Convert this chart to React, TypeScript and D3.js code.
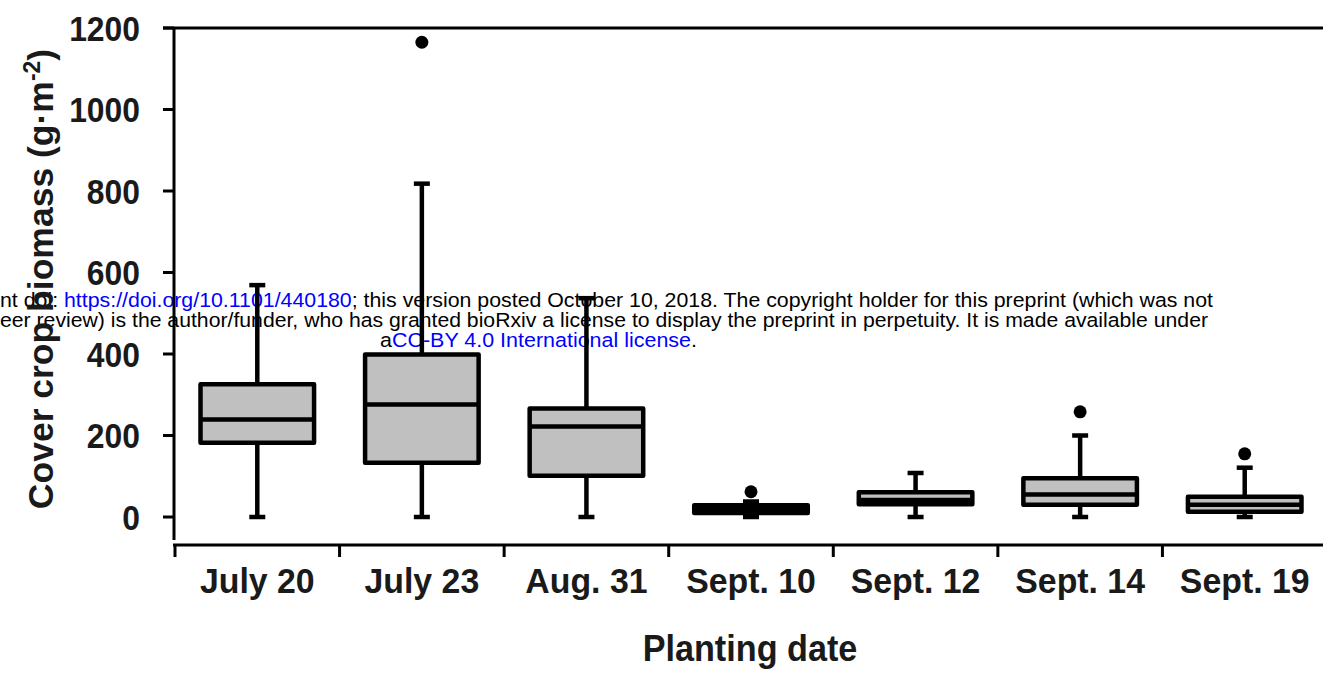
import React, { useRef, useEffect } from 'react';
import * as d3 from 'd3';

// planting dates on the x axis
const dates = ['July 20', 'July 23', 'Aug. 31', 'Sept. 10', 'Sept. 12', 'Sept. 14', 'Sept. 19'];

// box plot stats (g·m-2)
const mins = [0, 0, 0, 0, 0, 0, 0];
const q1s = [182, 133, 101, 10, 31, 30, 13];
const medians = [239, 276, 222, 20, 42, 55, 30];
const q3s = [326, 399, 266, 29, 61, 95, 50];
const maxs = [569, 818, 537, 38, 108, 200, 121];
const outliers = [[], [1165], [], [62], [], [258], [155]];

const yTicks = [0, 200, 400, 600, 800, 1000, 1200];

const FONT = "'Liberation Sans', Arial, sans-serif";

const App = () => {
  const ref = useRef(null);

  useEffect(() => {
    const svg = d3.select(ref.current);
    svg.selectAll('*').remove();

    const width = 1323;
    const height = 675;
    svg.attr('width', width).attr('height', height);

    const x = d3.scaleBand().domain(dates).range([175, 1327]).padding(0);
    const y = d3.scaleLinear().domain([0, 1200]).range([517, 28]);

    const stroke = 4.5;
    const boxW = x.bandwidth() * 0.69;
    const capW = 16;

    // preprint watermark (drawn under the chart)
    const wm = svg.append('g').attr('font-family', FONT).attr('font-size', 20.5);
    const l1 = wm.append('text').attr('x', 0).attr('y', 307)
      .attr('textLength', 1213).attr('lengthAdjust', 'spacingAndGlyphs');
    l1.append('tspan').attr('fill', '#000').text('nt doi: ');
    l1.append('tspan').attr('fill', '#0000ff').text('https://doi.org/10.1101/440180');
    l1.append('tspan').attr('fill', '#000').text('; this version posted October 10, 2018. The copyright holder for this preprint (which was not');
    wm.append('text').attr('x', 0).attr('y', 327)
      .attr('textLength', 1208).attr('lengthAdjust', 'spacingAndGlyphs')
      .attr('fill', '#000')
      .text('eer review) is the author/funder, who has granted bioRxiv a license to display the preprint in perpetuity. It is made available under');
    const l3 = wm.append('text').attr('x', 380).attr('y', 347)
      .attr('textLength', 317).attr('lengthAdjust', 'spacingAndGlyphs');
    l3.append('tspan').attr('fill', '#000').text('a');
    l3.append('tspan').attr('fill', '#0000ff').text('CC-BY 4.0 International license');
    l3.append('tspan').attr('fill', '#000').text('.');

    // top border line
    svg.append('line')
      .attr('x1', 163).attr('x2', width).attr('y1', y(1200)).attr('y2', y(1200))
      .attr('stroke', '#000').attr('stroke-width', 3);

    // y axis
    svg.append('line')
      .attr('x1', 174).attr('x2', 174).attr('y1', y(1200)).attr('y2', 540)
      .attr('stroke', '#000').attr('stroke-width', 3);

    const yt = svg.append('g');
    yt.selectAll('line').data(yTicks).enter().append('line')
      .attr('x1', 163).attr('x2', 174)
      .attr('y1', d => y(d)).attr('y2', d => y(d))
      .attr('stroke', '#000').attr('stroke-width', 3);
    yt.selectAll('text').data(yTicks).enter().append('text')
      .attr('transform', d => `translate(140,${y(d)}) scale(0.91,1)`)
      .attr('dy', '0.36em')
      .attr('text-anchor', 'end')
      .attr('font-family', FONT).attr('font-weight', 'bold').attr('font-size', 35)
      .attr('fill', '#1a1a1a')
      .text(d => d);

    // x axis
    const xAxisY = 545;
    svg.append('line')
      .attr('x1', 173).attr('x2', width).attr('y1', xAxisY).attr('y2', xAxisY)
      .attr('stroke', '#000').attr('stroke-width', 3);
    const edges = dates.map(d => x(d)).concat([x(dates[dates.length - 1]) + x.bandwidth()]);
    svg.append('g').selectAll('line').data(edges).enter().append('line')
      .attr('x1', d => d).attr('x2', d => d)
      .attr('y1', xAxisY).attr('y2', xAxisY + 12)
      .attr('stroke', '#000').attr('stroke-width', 3);
    svg.append('g').selectAll('text').data(dates).enter().append('text')
      .attr('transform', d => `translate(${x(d) + x.bandwidth() / 2},593) scale(0.94,1)`)
      .attr('text-anchor', 'middle')
      .attr('font-family', FONT).attr('font-weight', 'bold').attr('font-size', 36)
      .attr('fill', '#1a1a1a')
      .text(d => d);

    // axis titles
    svg.append('text')
      .attr('transform', 'translate(750,661) scale(0.95,1)')
      .attr('text-anchor', 'middle')
      .attr('font-family', FONT).attr('font-weight', 'bold').attr('font-size', 36)
      .attr('fill', '#1a1a1a')
      .text('Planting date');

    const yt2 = svg.append('text')
      .attr('transform', 'translate(53,279) rotate(-90)')
      .attr('text-anchor', 'middle')
      .attr('font-family', FONT).attr('font-weight', 'bold').attr('font-size', 35.5)
      .attr('fill', '#1a1a1a');
    yt2.append('tspan').text('Cover crop biomass (g·m');
    yt2.append('tspan').attr('font-size', 23).attr('dy', -13).text('-2');
    yt2.append('tspan').attr('dy', 13).text(')');

    // boxes
    const boxes = svg.append('g').selectAll('g').data(dates).enter().append('g')
      .attr('transform', d => `translate(${x(d) + x.bandwidth() / 2},0)`);

    boxes.append('line')
      .attr('x1', 0).attr('x2', 0)
      .attr('y1', (d, i) => y(maxs[i])).attr('y2', (d, i) => y(mins[i]))
      .attr('stroke', '#000').attr('stroke-width', stroke);

    boxes.append('line')
      .attr('x1', -capW / 2).attr('x2', capW / 2)
      .attr('y1', (d, i) => y(maxs[i])).attr('y2', (d, i) => y(maxs[i]))
      .attr('stroke', '#000').attr('stroke-width', stroke);
    boxes.append('line')
      .attr('x1', -capW / 2).attr('x2', capW / 2)
      .attr('y1', (d, i) => y(mins[i])).attr('y2', (d, i) => y(mins[i]))
      .attr('stroke', '#000').attr('stroke-width', stroke);

    boxes.append('rect')
      .attr('x', -boxW / 2).attr('width', boxW)
      .attr('y', (d, i) => y(q3s[i]))
      .attr('height', (d, i) => y(q1s[i]) - y(q3s[i]))
      .attr('fill', '#c0c0c0')
      .attr('stroke', '#000').attr('stroke-width', stroke)
      .attr('stroke-linejoin', 'round');

    boxes.append('line')
      .attr('x1', -boxW / 2).attr('x2', boxW / 2)
      .attr('y1', (d, i) => y(medians[i])).attr('y2', (d, i) => y(medians[i]))
      .attr('stroke', '#000').attr('stroke-width', stroke);

    boxes.selectAll('circle')
      .data((d, i) => outliers[i])
      .enter().append('circle')
      .attr('cx', 0).attr('cy', v => y(v)).attr('r', 6.5)
      .attr('fill', '#000');
  }, []);

  return (
    <svg ref={ref} style={{ position: 'absolute', left: 0, top: 0, background: '#fff' }}></svg>
  );
};

export default App;
